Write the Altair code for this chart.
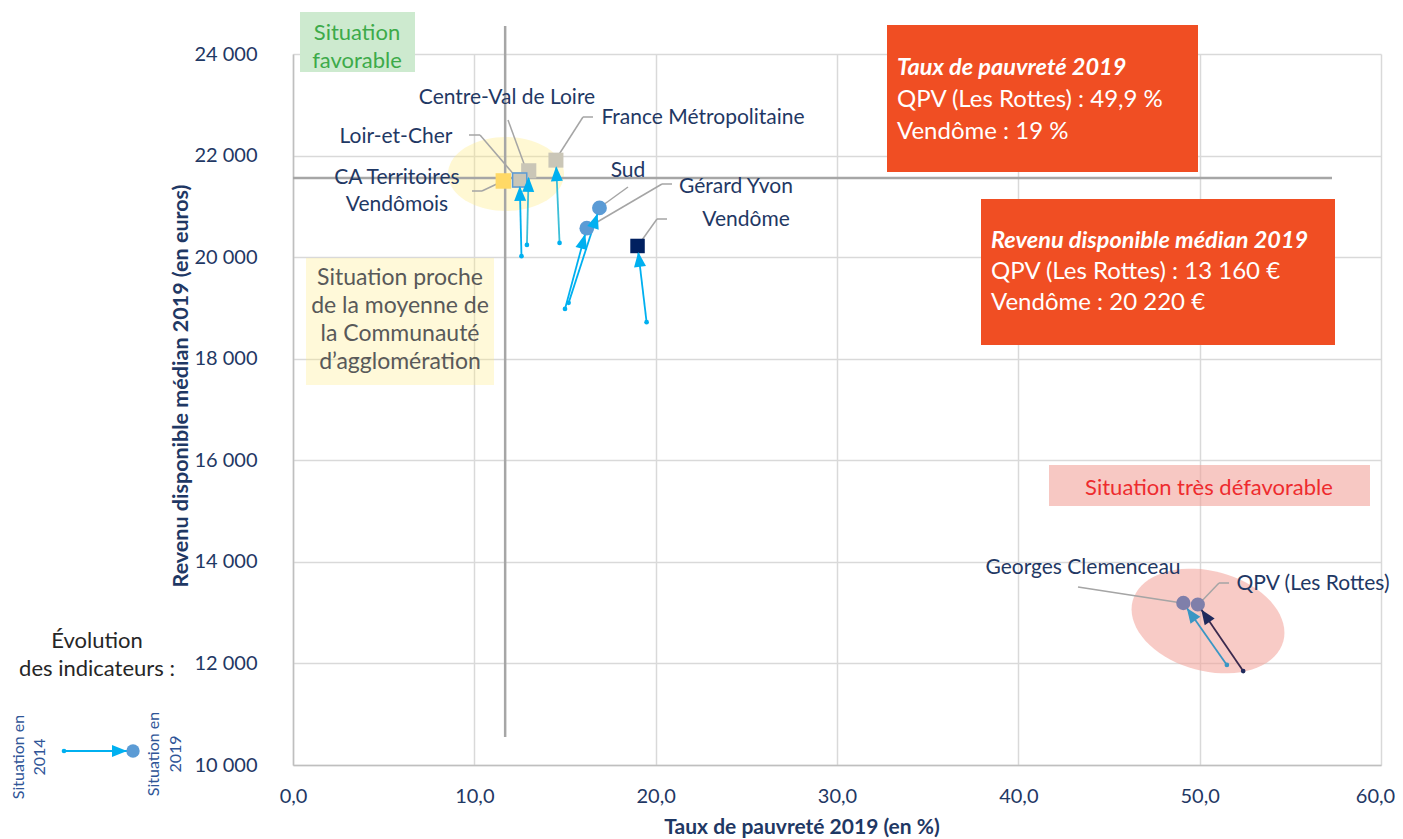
import math
import altair as alt
import pandas as pd

# ---------------- data ----------------
names = ["CA Territoires Vendômois", "Loir-et-Cher", "Centre-Val de Loire",
         "France Métropolitaine", "Sud", "Gérard Yvon", "Vendôme",
         "Georges Clemenceau", "QPV (Les Rottes)"]
pauvrete_2019 = [11.6, 12.5, 13.0, 14.5, 16.9, 16.2, 19.0, 49.1, 49.9]
revenu_2019 = [21500, 21520, 21700, 21910, 20970, 20570, 20220, 13190, 13160]
pauvrete_2014 = [None, 12.6, 12.9, 14.7, 15.2, 15.0, 19.5, 51.5, 52.4]
revenu_2014 = [None, 20020, 20240, 20280, 19100, 18980, 18720, 11970, 11850]
ref_pauvrete_ca = 11.7
ref_revenu_ca = 21560
x_ticks = [0, 10, 20, 30, 40, 50, 60]
y_ticks = [10000, 12000, 14000, 16000, 18000, 20000, 22000, 24000]

# ---------------- styles ----------------
marker_shapes = ["square", "square", "square", "square", "circle", "circle", "square", "circle", "circle"]
marker_sizes = [240, 200, 210, 210, 150, 150, 256, 150, 150]
marker_colors = ["#FFD966", "#CAC6B7", "#CAC6B7", "#CAC6B7", "#5B9BD5", "#5B9BD5", "#002060", "#7F7FAA", "#7F7FAA"]
arrow_colors = ["#00B0F0", "#00B0F0", "#3CBFD8", "#3CBFD8", "#00B0F0", "#00B0F0", "#00B0F0", "#3A96C4", "#3B2A4E"]
dot_colors = ["#00B0F0", "#00B0F0", "#00B0F0", "#00B0F0", "#00B0F0", "#00B0F0", "#00B0F0", "#3A96C4", "#1F2A5C"]

FONT = "Lato"
NAVY = "#1F3864"
OX, OY = 293, 54          # page position of plot origin
W, H = 1088, 711          # plot size
X_MIN, X_MAX = 0, 60
Y_MIN, Y_MAX = 10000, 24000

xs = alt.Scale(domain=[X_MIN, X_MAX], nice=False, zero=False)
ys = alt.Scale(domain=[Y_MIN, Y_MAX], nice=False, zero=False)

xaxis = alt.Axis(values=x_ticks, title=None, ticks=False, grid=True, gridColor="#D9D9D9",
                 gridWidth=1.5, domainColor="#BFBFBF", domainWidth=1.5,
                 labelExpr="replace(format(datum.value, '.1f'), '.', ',')",
                 labelFont=FONT, labelFontSize=20, labelColor=NAVY, labelPadding=21,
                 labelOffset={"condition": {"test": "datum.value >= 60", "value": -6}, "value": 0},
                 labelFlush=False, labelOverlap=False)
yaxis = alt.Axis(values=y_ticks, title=None, ticks=False, grid=True, gridColor="#D9D9D9",
                 gridWidth=1.5, domainColor="#BFBFBF", domainWidth=1.5,
                 labelExpr="replace(format(datum.value, ','), ',', ' ')",
                 labelFont=FONT, labelFontSize=20, labelColor=NAVY, labelPadding=36,
                 labelFlush=False, labelOverlap=False)


def X(f):
    return alt.X(f, scale=xs, axis=xaxis)


def Y(f):
    return alt.Y(f, scale=ys, axis=yaxis)


def px(x):
    return x - OX


def py(y):
    return y - OY


def to_dx(x):
    return (x - OX) / W * (X_MAX - X_MIN) + X_MIN


def to_dy(y):
    return Y_MAX - (y - OY) / H * (Y_MAX - Y_MIN)


df = pd.DataFrame({"name": names, "p19": pauvrete_2019, "r19": revenu_2019,
                   "p14": pauvrete_2014, "r14": revenu_2014})
arrows = df.dropna().copy()
kx = W / (X_MAX - X_MIN)
ky = H / (Y_MAX - Y_MIN)
arrows["ang"] = [
    (math.degrees(math.atan2((a - c) * kx, (b - d) * ky)) + 360) % 360
    for a, b, c, d in zip(arrows.p19, arrows.r19, arrows.p14, arrows.r14)
]

one = pd.DataFrame({"k": [0]})
ARROW = "M 0 0.6 L 0.6 2.1 L -0.6 2.1 Z"


def ellipse_path(a, b, deg, n=72):
    t = math.radians(deg)
    pts = []
    for i in range(n):
        u = 2 * math.pi * i / n
        ex, ey = a * math.cos(u), b * math.sin(u)
        pts.append(f"{ex * math.cos(t) - ey * math.sin(t):.2f} {ex * math.sin(t) + ey * math.cos(t):.2f}")
    return "M " + " L ".join(pts) + " Z"


def text(lines, x, y, size, color, align="center", weight="normal", style="normal",
         angle=None, lh=None):
    mk = dict(align=align, baseline="middle", fontSize=size, color=color, font=FONT,
              fontWeight=weight, fontStyle=style)
    if angle is not None:
        mk["angle"] = angle
    if lh is not None:
        mk["lineHeight"] = lh
    return alt.Chart(one).mark_text(**mk).encode(
        x=alt.value(px(x)), y=alt.value(py(y)), text=alt.value(lines))


def box(x1, y1, x2, y2, color, opacity=1.0):
    return alt.Chart(one).mark_rect(color=color, opacity=opacity).encode(
        x=alt.value(px(x1)), x2=alt.value(px(x2)), y=alt.value(py(y1)), y2=alt.value(py(y2)))


layers = []

# axes carrier
layers.append(alt.Chart(df).mark_point(opacity=0).encode(x=X("p19:Q"), y=Y("r19:Q")))

# background ellipses
ell = pd.DataFrame({"ex": [to_dx(506), to_dx(1208)], "ey": [to_dy(174), to_dy(621)]})
layers.append(alt.Chart(ell.iloc[[0]]).mark_point(
    shape=ellipse_path(58, 37, 0), size=4, filled=True, color="#FFEB80", opacity=0.35, strokeWidth=0
).encode(x=X("ex:Q"), y=Y("ey:Q")))
layers.append(alt.Chart(ell.iloc[[1]]).mark_point(
    shape=ellipse_path(78, 50, 15), size=4, filled=True, color="#F2A097", opacity=0.55, strokeWidth=0
).encode(x=X("ex:Q"), y=Y("ey:Q")))

# annotation boxes
layers.append(box(306, 258, 494, 385, "#FFEB80", 0.3))
layers.append(box(1049, 465, 1370, 506, "#F2A097", 0.58))
layers.append(box(300, 12, 415, 72, "#CDEACF"))
layers.append(box(887, 25, 1198, 172, "#F04E23"))
layers.append(box(981, 199, 1335, 345, "#F04E23"))

# reference lines (CA values)
ref = pd.DataFrame({"rx": [ref_pauvrete_ca], "ry": [ref_revenu_ca]})
layers.append(alt.Chart(ref).mark_rule(color="#A6A6A6", strokeWidth=2.5).encode(
    x=X("rx:Q"), y=alt.value(py(26)), y2=alt.value(py(737))))
layers.append(alt.Chart(ref).mark_rule(color="#A6A6A6", strokeWidth=2.5).encode(
    y=Y("ry:Q"), x=alt.value(px(293)), x2=alt.value(px(1332))))

# leader lines (page layout positions)
segs = [
    (508, 120, 527, 172),
    (593, 117, 583, 117), (583, 117, 558, 156),
    (469, 135, 480, 135), (480, 135, 516, 177),
    (472, 191, 482, 191), (482, 191, 501, 182),
    (628, 187, 599, 208),
    (672, 184, 662, 184), (662, 184, 587, 228),
    (667, 219, 657, 219), (657, 219, 637, 247),
    (1078, 587, 1182, 603),
    (1229, 583, 1219, 583), (1219, 583, 1198, 605),
]
lead = pd.DataFrame({"a": [to_dx(s[0]) for s in segs], "b": [to_dy(s[1]) for s in segs],
                     "c": [to_dx(s[2]) for s in segs], "d": [to_dy(s[3]) for s in segs]})
layers.append(alt.Chart(lead).mark_rule(color="#A5A5A5", strokeWidth=1.5).encode(
    x=X("a:Q"), y=Y("b:Q"), x2="c:Q", y2="d:Q"))

arrow_stroke = alt.Stroke("name:N", scale=alt.Scale(domain=names, range=arrow_colors), legend=None)
dot_fill = alt.Fill("name:N", scale=alt.Scale(domain=names, range=dot_colors), legend=None)

# arrows 2014 -> 2019
layers.append(alt.Chart(arrows).mark_rule(strokeWidth=1.8).encode(
    x=X("p14:Q"), y=Y("r14:Q"), x2="p19:Q", y2="r19:Q", stroke=arrow_stroke))
# 2014 dots
layers.append(alt.Chart(arrows).mark_point(filled=True, size=22, opacity=1, shape="circle").encode(
    x=X("p14:Q"), y=Y("r14:Q"), fill=dot_fill))
# 2019 markers
layers.append(alt.Chart(df).mark_point(filled=True, opacity=1).encode(
    x=X("p19:Q"), y=Y("r19:Q"),
    color=alt.Color("name:N", scale=alt.Scale(domain=names, range=marker_colors), legend=None),
    shape=alt.Shape("name:N", scale=alt.Scale(domain=names, range=marker_shapes), legend=None),
    size=alt.Size("name:N", scale=alt.Scale(domain=names, range=marker_sizes), legend=None)))
layers.append(alt.Chart(df).transform_filter(alt.datum.name == "Loir-et-Cher").mark_point(
    shape="square", filled=False, size=200, color="#5B9BD5", strokeWidth=1.5, opacity=1).encode(
    x=X("p19:Q"), y=Y("r19:Q")))
# arrowheads
layers.append(alt.Chart(arrows).mark_point(shape=ARROW, filled=True, size=400, opacity=1, strokeWidth=0).encode(
    x=X("p19:Q"), y=Y("r19:Q"), angle=alt.Angle("ang:Q", scale=None), fill=dot_fill))

# point labels
lab = pd.DataFrame({
    "t": ["Centre-Val de Loire", "France Métropolitaine", "Loir-et-Cher", "CA Territoires",
          "Vendômois", "Sud", "Gérard Yvon", "Vendôme", "Georges Clemenceau", "QPV (Les Rottes)"],
    "lx": [to_dx(v) for v in [507, 703, 396, 397, 397, 628, 736, 746, 1083, 1313]],
    "ly": [to_dy(v) for v in [98, 118, 137, 178, 205, 171, 187, 220, 568, 584]],
})
layers.append(alt.Chart(lab).mark_text(font=FONT, fontSize=21, color=NAVY, align="center",
                                        baseline="middle").encode(
    x=X("lx:Q"), y=Y("ly:Q"), text="t:N"))

# annotation texts
layers.append(text(["Situation", "favorable"], 357, 33, 22, "#3DAA4A", lh=28))
layers.append(text(["Situation proche", "de la moyenne de", "la Communauté", "d\u2019agglomération"],
                   400, 278, 23, "#595959", lh=28))
layers.append(text("Situation très défavorable", 1209, 488, 22, "#EE2B2E"))
layers.append(text("Taux de pauvreté 2019", 897, 68, 23.5, "white", align="left", weight="bold", style="italic"))
layers.append(text("QPV (Les Rottes) : 49,9 %", 897, 100, 24, "white", align="left"))
layers.append(text("Vendôme : 19 %", 897, 132, 24, "white", align="left"))
layers.append(text("Revenu disponible médian 2019", 991, 241, 23.5, "white", align="left", weight="bold", style="italic"))
layers.append(text("QPV (Les Rottes) : 13 160 €", 991, 272, 24, "white", align="left"))
layers.append(text("Vendôme : 20 220 €", 991, 303, 24, "white", align="left"))

# axis titles
layers.append(text("Taux de pauvreté 2019 (en %)", 802, 828, 21, NAVY, weight="bold"))
layers.append(text("Revenu disponible médian 2019 (en euros)", 182, 386, 21.5, NAVY, weight="bold", angle=270))

# legend
layers.append(text(["Évolution", "des indicateurs :"], 97, 641, 22, "#262626", lh=28))
layers.append(alt.Chart(one).mark_rule(color="#00B0F0", strokeWidth=2).encode(
    x=alt.value(px(64)), x2=alt.value(px(133)), y=alt.value(py(751))))
layers.append(alt.Chart(one).mark_point(shape="circle", filled=True, size=22, color="#00B0F0", opacity=1).encode(
    x=alt.value(px(64)), y=alt.value(py(751))))
layers.append(alt.Chart(one).mark_point(shape="circle", filled=True, size=180, color="#5B9BD5", opacity=1).encode(
    x=alt.value(px(133)), y=alt.value(py(751))))
layers.append(alt.Chart(one).mark_point(shape=ARROW, filled=True, size=400, color="#00B0F0", opacity=1,
                                        angle=90, strokeWidth=0).encode(
    x=alt.value(px(133)), y=alt.value(py(751))))
layers.append(text(["Situation en", "2014"], 19, 757, 16, "#2F5597", angle=270, lh=21))
layers.append(text(["Situation en", "2019"], 154, 754, 16, "#2F5597", angle=270, lh=22))

chart = alt.layer(*layers).properties(
    width=W, height=H,
    padding={"left": OX - 8, "top": OY - 8, "right": 14, "bottom": 76},
    autosize=alt.AutoSizeParams(type="none"),
    background="white",
).configure_view(stroke=None)

chart.save("out.html", embed_options={"renderer": "svg", "actions": False})
